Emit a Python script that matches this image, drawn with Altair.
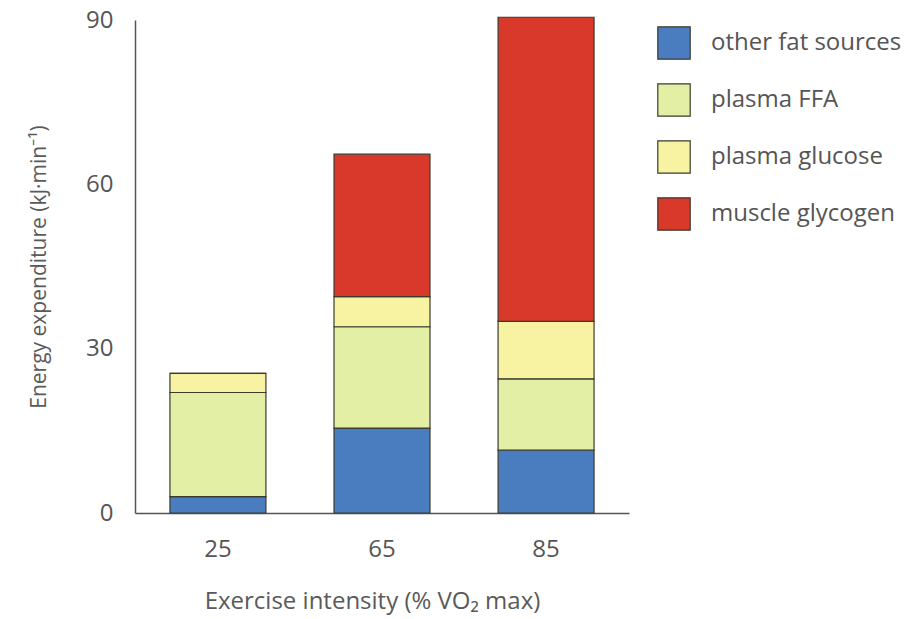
import altair as alt
import pandas as pd

intensity = ["25", "65", "85"]
sources = ["other fat sources", "plasma FFA", "plasma glucose", "muscle glycogen"]
colors = ["#4a7dc0", "#e4efa6", "#f7f3a2", "#d8392b"]
values = {
    "other fat sources": [3.0, 15.5, 11.5],
    "plasma FFA": [19.0, 18.5, 13.0],
    "plasma glucose": [3.5, 5.5, 10.5],
    "muscle glycogen": [0.0, 26.0, 55.5],
}

rows = []
for si, s in enumerate(sources):
    for ii, x in enumerate(intensity):
        rows.append({"intensity": x, "source": s, "value": values[s][ii], "order": si})
df = pd.DataFrame(rows)

font = "Open Sans"

chart = alt.Chart(df).mark_bar(stroke="#3b3b2c", strokeWidth=1.2).encode(
    x=alt.X("intensity:N", sort=intensity,
            scale=alt.Scale(paddingInner=0.415, paddingOuter=0.213),
            axis=alt.Axis(title="Exercise intensity (% VO₂ max)", labelAngle=0,
                          ticks=False, labelPadding=24, titlePadding=28, titleX=237,
                          domainColor="#555", domainWidth=1.5,
                          labelFontSize=24, titleFontSize=24,
                          labelColor="#555", titleColor="#5a5a5a",
                          labelFont=font, titleFont=font, titleFontWeight="normal")),
    y=alt.Y("value:Q", stack="zero",
            scale=alt.Scale(domain=[0, 90], nice=False),
            axis=alt.Axis(title="Energy expenditure (kJ·min⁻¹)", values=[0, 30, 60, 90],
                          ticks=False, grid=False, labelPadding=22, titlePadding=36,
                          domainColor="#555", domainWidth=1.5,
                          labelFontSize=24, titleFontSize=21,
                          labelColor="#555", titleColor="#5a5a5a",
                          labelFont=font, titleFont=font, titleFontWeight="normal")),
    color=alt.Color("source:N", sort=sources,
                    scale=alt.Scale(domain=sources, range=colors),
                    legend=alt.Legend(title=None, orient="none", legendX=522, legendY=6,
                                      symbolType="square", symbolSize=1050,
                                      symbolStrokeColor="#3b3b2c", symbolStrokeWidth=1.2,
                                      rowPadding=19, labelFontSize=24, labelFont=font,
                                      labelColor="#555", labelOffset=20, labelLimit=300)),
    order=alt.Order("order:Q", sort="ascending"),
).properties(
    width=494, height=493,
    padding={"left": 135, "top": 20, "right": 295, "bottom": 106},
    autosize=alt.AutoSizeParams(type="none"),
    background="white",
).configure_view(stroke=None)

chart.save("out.html", embed_options={"renderer": "svg", "actions": False})
